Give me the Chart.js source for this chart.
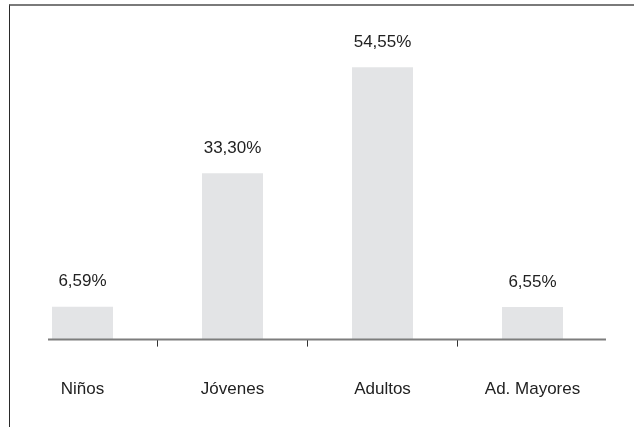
<!DOCTYPE html>
<html>
<head>
<meta charset="utf-8">
<script src="https://cdn.jsdelivr.net/npm/chart.js@4/dist/chart.umd.min.js"></script>
<style>
  html, body { margin: 0; padding: 0; background: #fff; }
  #wrap { position: relative; width: 634px; height: 427px; }
  #frame {
    position: absolute; left: 9px; top: 4px; right: 0; bottom: 0;
    border-top: 2px solid #7a7a7a; border-left: 1px solid #2a2a2a;
  }
  canvas { position: absolute; left: 0; top: 0; }
</style>
</head>
<body>
<div id="wrap">
  <div id="frame"></div>
  <canvas id="myChart" width="634" height="427"></canvas>
</div>
<script>
const categories = ["Niños", "Jóvenes", "Adultos", "Ad. Mayores"];
const percents = [6.59, 33.30, 54.55, 6.55];

const FONT = "'Liberation Sans', Arial, sans-serif";

// baseline drawn by hand so it can start a bit right of the first category edge
const baseline = {
  id: "baseline",
  afterDatasetsDraw(chart) {
    const ctx = chart.ctx;
    const y = chart.chartArea.bottom;
    ctx.save();
    ctx.strokeStyle = "#7d7d7d";
    ctx.lineWidth = 2;
    ctx.beginPath();
    ctx.moveTo(48, y);
    ctx.lineTo(606, y);
    ctx.stroke();
    ctx.restore();
  },
};

// percent text above every bar
const valueLabels = {
  id: "valueLabels",
  afterDatasetsDraw(chart) {
    const ctx = chart.ctx;
    const meta = chart.getDatasetMeta(0);
    ctx.save();
    ctx.font = "17px " + FONT;
    ctx.fillStyle = "#222";
    ctx.textAlign = "center";
    ctx.textBaseline = "middle";
    meta.data.forEach((bar, i) => {
      const txt = percents[i].toFixed(2).replace(".", ",") + "%";
      ctx.fillText(txt, bar.x, bar.y - 25);
    });
    ctx.restore();
  },
};

const ctx = document.getElementById("myChart").getContext("2d");

new Chart(ctx, {
  type: "bar",
  data: {
    labels: categories,
    datasets: [
      {
        data: percents,
        backgroundColor: "#e3e4e6",
        barPercentage: 0.407,
        categoryPercentage: 1,
      },
    ],
  },
  options: {
    responsive: false,
    animation: false,
    layout: { padding: { left: 7.5, right: 26.5, top: 40, bottom: -6 } },
    plugins: { legend: { display: false }, tooltip: { enabled: false } },
    scales: {
      y: { display: false, min: 0, max: 60 },
      x: {
        border: { display: false },
        grid: {
          offset: true,
          drawOnChartArea: false,
          tickLength: 7,
          lineWidth: 1,
          // only the inner category separators get a tick mark
          color: (c) => (c.type === "tick" && c.index > 0 ? "#333" : "rgba(0,0,0,0)"),
        },
        ticks: {
          color: "#222",
          padding: 33,
          font: { size: 17, family: FONT },
          maxRotation: 0,
        },
      },
    },
  },
  plugins: [baseline, valueLabels],
});
</script>
</body>
</html>
